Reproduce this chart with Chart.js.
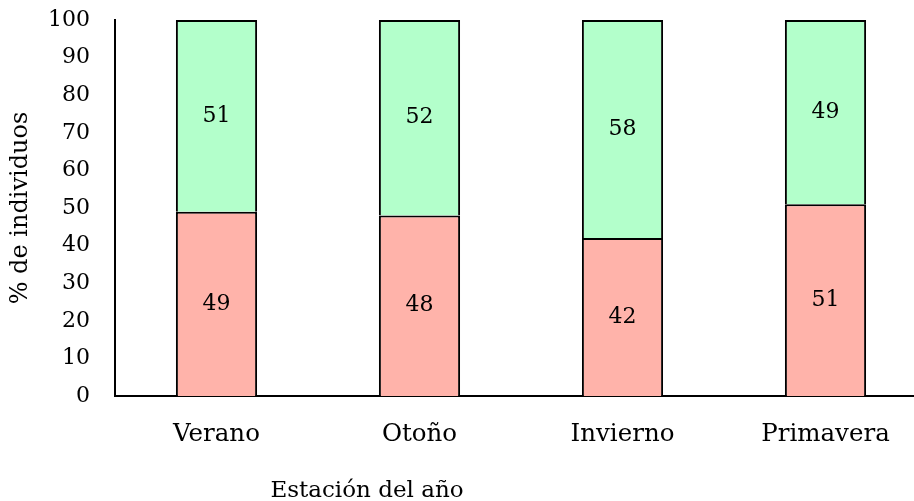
<!DOCTYPE html>
<html>
<head>
<meta charset="utf-8">
<script src="https://cdn.jsdelivr.net/npm/chart.js@4"></script>
<style>
  html, body { margin: 0; padding: 0; background: #fff; overflow: hidden; }
  #wrap { position: relative; width: 927px; height: 501px; }
</style>
</head>
<body>
<div id="wrap"><canvas id="chart"></canvas></div>
<script>
// Seasons and share of individuals (%) in each group
const estaciones = ["Verano", "Otoño", "Invierno", "Primavera"];
const grupoRojo = [49, 48, 42, 51];
const grupoVerde = [51, 52, 58, 49];
const yTicks = [0, 10, 20, 30, 40, 50, 60, 70, 80, 90, 100];

const FONT = "'DejaVu Serif', serif";

// Write each segment's value in the middle of its bar piece
const valueLabels = {
    id: "valueLabels",
    afterDatasetsDraw(chart) {
        const ctx = chart.ctx;
        ctx.save();
        ctx.font = "22px " + FONT;
        ctx.fillStyle = "#000";
        ctx.textAlign = "center";
        ctx.textBaseline = "middle";
        chart.data.datasets.forEach(function (ds, i) {
            chart.getDatasetMeta(i).data.forEach(function (bar, j) {
                const p = bar.getProps(["x", "y", "base"], true);
                ctx.fillText(String(ds.data[j]), p.x, (p.y + p.base) / 2);
            });
        });
        ctx.restore();
    }
};

// X axis title, placed under the tick labels
const xTitle = {
    id: "xTitle",
    afterDraw(chart, args, opts) {
        const ctx = chart.ctx;
        ctx.save();
        ctx.font = opts.size + "px " + FONT;
        ctx.fillStyle = "#000";
        ctx.textAlign = "center";
        ctx.textBaseline = "middle";
        ctx.fillText(opts.text, opts.x, chart.scales.x.bottom + opts.offset);
        ctx.restore();
    }
};

new Chart(document.getElementById("chart"), {
    type: "bar",
    data: {
        labels: estaciones,
        datasets: [
            { data: grupoRojo, backgroundColor: "#ffb3aa", borderColor: "#000", borderWidth: 2 },
            { data: grupoVerde, backgroundColor: "#b3ffcb", borderColor: "#000", borderWidth: 2 }
        ]
    },
    options: {
        responsive: true,
        maintainAspectRatio: false,
        animation: false,
        layout: { padding: { top: 20, right: 0, bottom: 54, left: 0 } },
        datasets: { bar: { categoryPercentage: 1, barPercentage: 0.4 } },
        plugins: {
            legend: { display: false },
            tooltip: { enabled: false },
            xTitle: { text: "Estación del año", x: 367, offset: 44, size: 23 }
        },
        scales: {
            x: {
                stacked: true,
                grid: { display: false, drawTicks: false },
                border: { display: true, color: "#000", width: 2 },
                ticks: { color: "#000", padding: 24, font: { family: FONT, size: 24.5 } },
                afterFit(scale) {
                    scale.height = 51;
                    scale.paddingLeft = 0;
                    scale.paddingRight = 0;
                }
            },
            y: {
                stacked: true,
                min: 0,
                max: 100,
                afterBuildTicks(scale) {
                    scale.ticks = yTicks.map(v => ({ value: v }));
                },
                grid: { display: false, drawTicks: false },
                border: { display: true, color: "#000", width: 2 },
                ticks: { color: "#000", padding: 25, font: { family: FONT, size: 22 } },
                title: {
                    display: true,
                    text: "% de individuos",
                    color: "#000",
                    font: { family: FONT, size: 24 },
                    padding: { top: 6, bottom: 14 }
                },
                afterFit(scale) {
                    scale.width = 115;
                    scale.paddingTop = 0;
                    scale.paddingBottom = 0;
                }
            }
        }
    },
    plugins: [valueLabels, xTitle]
});
</script>
</body>
</html>
